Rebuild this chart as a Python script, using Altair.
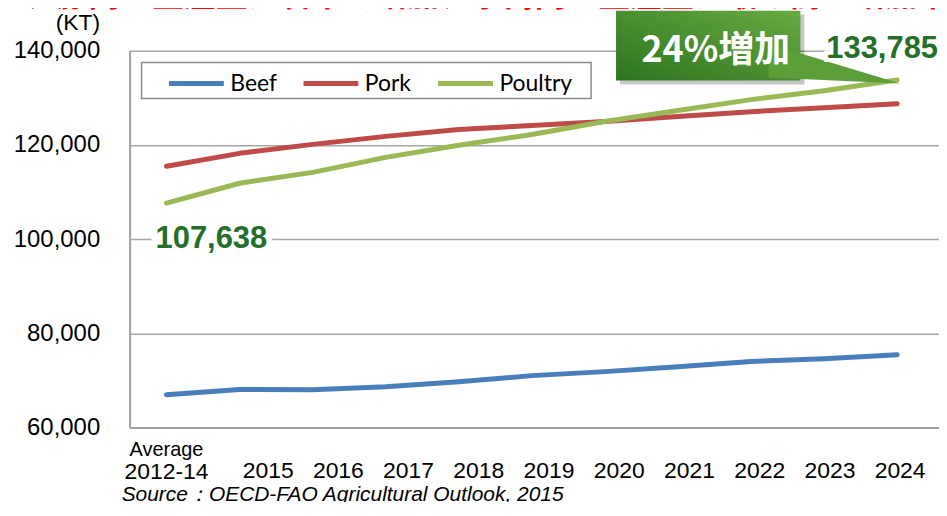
import altair as alt
import pandas as pd

# ---------------- data ----------------
categories = ["Average 2012-14", "2015", "2016", "2017", "2018", "2019",
              "2020", "2021", "2022", "2023", "2024"]
beef = [66950, 68050, 68000, 68650, 69700, 71000, 71850, 72900, 74000, 74600, 75450]
pork = [115450, 118200, 120100, 121800, 123250, 124100, 124950, 126000, 127050, 127900, 128750]
poultry = [107638, 111850, 114150, 117350, 119900, 122200, 124950, 127300, 129600, 131500, 133785]
series = ["Beef", "Pork", "Poultry"]
colors = ["#4A7EBB", "#BE4B48", "#98B954"]
y_ticks = [60000, 80000, 100000, 120000, 140000]

start_label = ["107,638"]
end_label = ["133,785"]
callout_text = ["24%増加"]
headline = ["前年比で、豚肉の生産量は若干の増加、家禽肉の生産量は最も高い増加率を示す"]
source_text = ["Source：OECD-FAO Agricultural Outlook, 2015"]

rows = []
for name, vals in zip(series, [beef, pork, poultry]):
    for i, (c, v) in enumerate(zip(categories, vals)):
        rows.append({"year": c, "value": v, "meat": name, "idx": i})
df = pd.DataFrame(rows)

W, H = 812, 378
GREEN_TXT = "#24702B"
FONT = "Liberation Sans"

# category index axis (style: where first/last category sit inside the plot)
x_scale = alt.Scale(domain=[-0.5048, 10.573], nice=False, zero=False)
y_scale = alt.Scale(domain=[60000, 140000], nice=False, zero=False)

x_axis = alt.Axis(
    title=None, labels=False, ticks=False, tickSize=0, grid=False,
    domainColor="#A0A0A0", domainWidth=2,
)
y_axis = alt.Axis(
    values=y_ticks, labelExpr="format(datum.value, ',.0f')",
    title="(KT)", titleAngle=0, titleX=-30, titleY=-28,
    titleAlign="right", titleBaseline="middle", titleFont=FONT,
    titleFontSize=23, titleFontWeight="normal", titleColor="black",
    labelFont=FONT, labelFontSize=24, labelColor="black",
    labelPadding=30, ticks=False, tickSize=0,
    domainColor="#A0A0A0", domainWidth=2,
    gridColor="#A6A6A6", gridWidth=1.5,
)

dummy = pd.DataFrame({"k": [0]})

# legend box (drawn behind the legend)
legend_box = alt.Chart(dummy).mark_rect(
    fill="white", stroke="#8C8C8C", strokeWidth=1.5
).encode(x=alt.value(12), x2=alt.value(463), y=alt.value(12), y2=alt.value(48))

lines = alt.Chart(df).mark_line(strokeWidth=5, strokeCap="round", strokeJoin="round").encode(
    x=alt.X("idx:Q", scale=x_scale, axis=x_axis),
    y=alt.Y("value:Q", scale=y_scale, axis=y_axis),
    color=alt.Color(
        "meat:N",
        scale=alt.Scale(domain=series, range=colors),
        legend=alt.Legend(
            title=None, orient="none", legendX=37, legendY=3,
            direction="horizontal", symbolType="stroke", symbolStrokeWidth=5,
            symbolSize=3025, labelFont="Lato", labelFontSize=23,
            labelColor="black", columnPadding=16, labelOffset=4, padding=0,
        ),
    ),
    order="idx:Q",
)

def xi():
    return alt.X("idx:Q", scale=x_scale, axis=None)

def yv():
    return alt.Y("value:Q", scale=y_scale, axis=y_axis)

# start / end value labels anchored to data
start_df = pd.DataFrame({"idx": [0], "value": [100000], "label": start_label})
end_df = pd.DataFrame({"idx": [len(categories) - 1], "value": [140000], "label": end_label})

start_halo = alt.Chart(start_df).mark_text(
    font=FONT, fontSize=31, fontWeight="bold", fill="white",
    stroke="white", strokeWidth=12, align="center", baseline="middle", dx=45
).encode(x=xi(), y=yv(), text="label:N")
start_txt = alt.Chart(start_df).mark_text(
    font=FONT, fontSize=31, fontWeight="bold", color=GREEN_TXT,
    align="center", baseline="middle", dx=45
).encode(x=xi(), y=yv(), text="label:N")

end_halo = alt.Chart(end_df).mark_text(
    font=FONT, fontSize=31, fontWeight="bold", fill="white",
    stroke="white", strokeWidth=8, align="right", baseline="middle", dx=41, dy=-2
).encode(x=xi(), y=yv(), text="label:N")
end_txt = alt.Chart(end_df).mark_text(
    font=FONT, fontSize=31, fontWeight="bold", color=GREEN_TXT,
    align="right", baseline="middle", dx=41, dy=-2
).encode(x=xi(), y=yv(), text="label:N")

# callout box
grad = alt.Gradient(
    gradient="linear",
    stops=[alt.GradientStop(color="#2C7420", offset=0),
           alt.GradientStop(color="#68AA40", offset=1)],
    x1=0, y1=1, x2=1, y2=0,
)
shadow = alt.Chart(dummy).mark_rect(fill="#000000", opacity=0.22).encode(
    x=alt.value(492), x2=alt.value(677), y=alt.value(-36), y2=alt.value(34))
box = alt.Chart(dummy).mark_rect(color=grad).encode(
    x=alt.value(488), x2=alt.value(673), y=alt.value(-40), y2=alt.value(30))
tail = alt.Chart(dummy).mark_point(
    shape="M-1,-0.303L1,0.303L-1,0.212Z", filled=True, size=17424,
    fill="#5C9E38", opacity=1, strokeWidth=0
).encode(x=alt.value(707), y=alt.value(13))
box_txt = alt.Chart(pd.DataFrame({"t": callout_text})).mark_text(
    font="Noto Sans CJK JP", fontSize=36, fontWeight="bold", color="white",
    align="center", baseline="middle"
).encode(x=alt.value(588), y=alt.value(0), text="t:N")

# headline (clipped at top)
head = alt.Chart(pd.DataFrame({"t": headline})).mark_text(
    font="Noto Sans CJK JP", fontSize=32, fontWeight="bold", color="#FF0000",
    align="center", baseline="bottom"
).encode(x=alt.value(343), y=alt.value(-38), text="t:N")

# category labels: first category under its point, the years on their own band
first_df = pd.DataFrame({"idx": [0], "t1": ["Average"], "t2": ["2012-14"]})
avg = alt.Chart(first_df).mark_text(
    font=FONT, fontSize=20, color="black", align="center", baseline="middle"
).encode(x=xi(), y=alt.value(401), text="t1:N")
first_lbl = alt.Chart(first_df).mark_text(
    font=FONT, fontSize=23, color="black", align="center", baseline="middle"
).encode(x=xi(), y=alt.value(423), text="t2:N")

years_df = pd.DataFrame({"year": categories[1:]})
year_lbls = alt.Chart(years_df).mark_text(
    font=FONT, fontSize=23, color="black", align="center", baseline="middle"
).encode(
    x=alt.X("year:N", scale=alt.Scale(domain=categories[1:], range=[139, 773], padding=0),
            axis=None),
    y=alt.value(422), text="year:N",
)

src = alt.Chart(pd.DataFrame({"t": source_text})).mark_text(
    font=FONT, fontSize=21, fontStyle="italic", color="black",
    align="left", baseline="middle"
).encode(x=alt.value(-8), y=alt.value(446), text="t:N")

chart = alt.layer(
    legend_box, lines, start_halo, start_txt, shadow, box, tail, box_txt,
    end_halo, end_txt, head, avg, first_lbl, year_lbls, src
).resolve_scale(x="independent").properties(
    width=W, height=H,
    autosize=alt.AutoSizeParams(type="none"),
    padding={"left": 122, "top": 42, "right": 0, "bottom": 74},
    background="white",
).configure_view(stroke=None)

chart.save("out.html", embed_options={"renderer": "svg", "actions": False})
